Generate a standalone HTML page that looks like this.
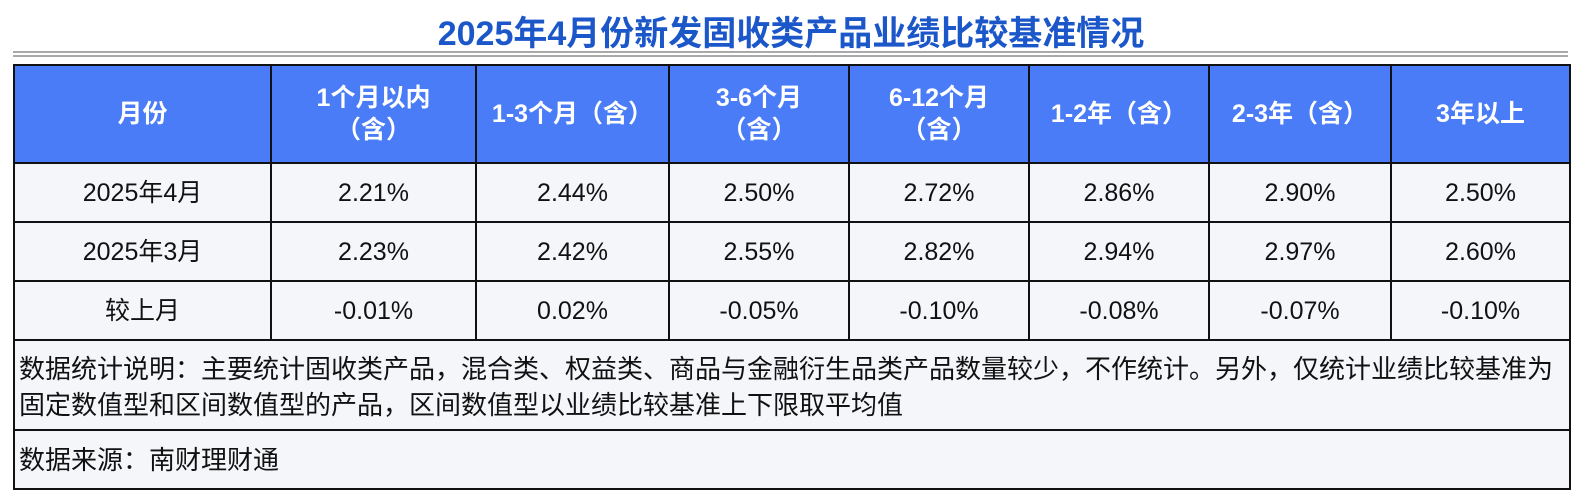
<!DOCTYPE html>
<html><head><meta charset="utf-8"><style>
body{margin:0;width:1582px;height:500px;background:#fff;font-family:"Liberation Sans","Noto Sans CJK SC",sans-serif;position:relative;overflow:hidden}
.title{position:absolute;left:0;width:1582px;top:6px;text-align:center;font-size:34px;font-weight:bold;color:#1b57c9}
.dl{position:absolute;left:13px;width:1555px;top:51px;height:2px;border-top:2px solid #aaa;border-bottom:2px solid #aaa;}
table{position:absolute;left:13px;top:64px;border-collapse:collapse;table-layout:fixed;width:1556px}
td{border:2px solid #111;text-align:center;font-size:25px;color:#111;background:#f4f6fa;padding:0;line-height:32px;white-space:nowrap}
tr.h td{background:#4a7cf7;color:#fff;font-weight:bold;height:96px;font-size:25px}
tr.r td{height:57px}
td.n{text-align:left;padding-left:4px;line-height:36px;font-size:26px;white-space:normal}
</style></head><body>
<div class="title">2025年4月份新发固收类产品业绩比较基准情况</div>
<div class="dl"></div>
<table>
<colgroup><col style="width:257px"><col style="width:205px"><col style="width:193px"><col style="width:180px"><col style="width:180px"><col style="width:180px"><col style="width:182px"><col style="width:179px"></colgroup>
<tr class="h"><td>月份</td><td>1个月以内<br>（含）</td><td>1-3个月（含）</td><td>3-6个月<br>（含）</td><td>6-12个月<br>（含）</td><td>1-2年（含）</td><td>2-3年（含）</td><td>3年以上</td></tr>
<tr class="r"><td>2025年4月</td><td>2.21%</td><td>2.44%</td><td>2.50%</td><td>2.72%</td><td>2.86%</td><td>2.90%</td><td>2.50%</td></tr>
<tr class="r"><td>2025年3月</td><td>2.23%</td><td>2.42%</td><td>2.55%</td><td>2.82%</td><td>2.94%</td><td>2.97%</td><td>2.60%</td></tr>
<tr class="r"><td>较上月</td><td>-0.01%</td><td>0.02%</td><td>-0.05%</td><td>-0.10%</td><td>-0.08%</td><td>-0.07%</td><td>-0.10%</td></tr>
<tr><td class="n" colspan="8" style="height:78px;vertical-align:top;padding-top:10px"><span style="white-space:nowrap">数据统计说明：主要统计固收类产品，混合类、权益类、商品与金融衍生品类产品数量较少，不作统计。另外，仅统计业绩比较基准为</span><br>固定数值型和区间数值型的产品，区间数值型以业绩比较基准上下限取平均值</td></tr>
<tr><td class="n" colspan="8" style="height:57px">数据来源：南财理财通</td></tr>
</table>
</body></html>
